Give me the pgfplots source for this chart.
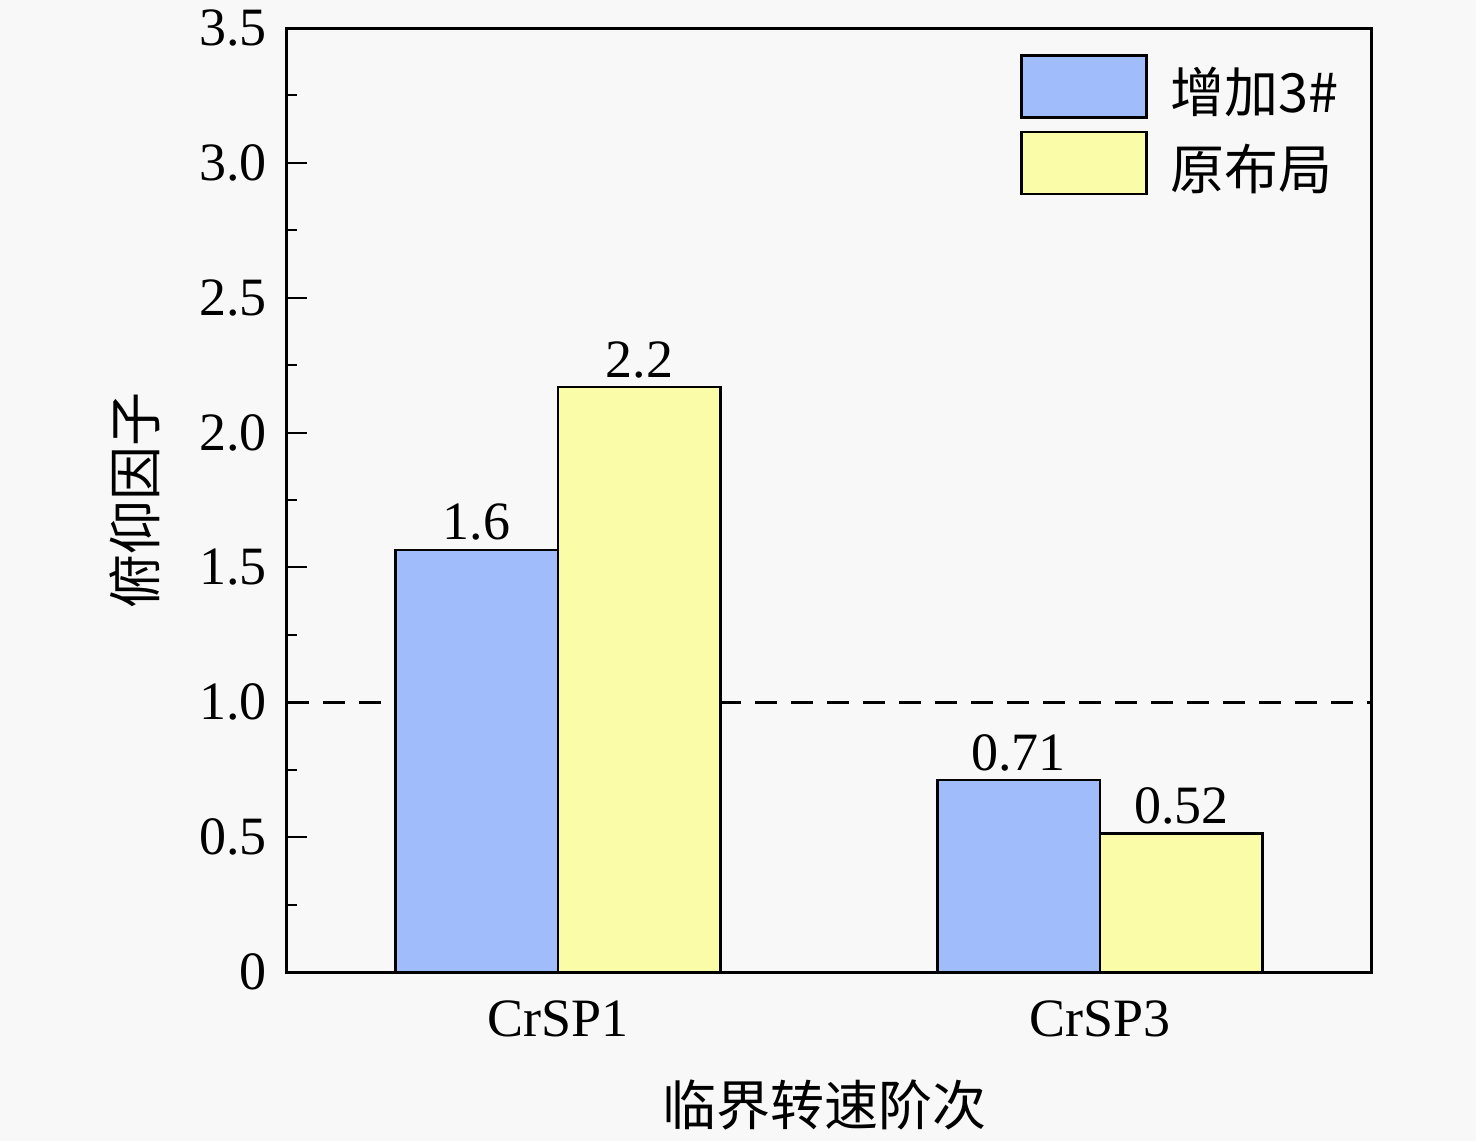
\documentclass[border=0pt]{standalone}
\usepackage{pgfplots}
\pgfplotsset{compat=1.18}
\usepackage{fontspec}
\setmainfont{Liberation Serif}
\newfontfamily\cjk{Noto Sans CJK SC}
\definecolor{barblue}{RGB}{160,188,250}
\definecolor{baryellow}{RGB}{250,252,168}
\definecolor{bg}{RGB}{248,248,248}
\begin{document}
\begin{tikzpicture}[font=\fontsize{27pt}{32pt}\selectfont]
\fill[bg] (-143.5pt,-84.5pt) rectangle (594.5pt,486pt);
\begin{axis}[
  name=ax,
  at={(0,0)}, anchor=south west,
  scale only axis, width=542pt, height=472pt,
  xmin=-0.5, xmax=1.5, ymin=0, ymax=3.5,
  xtick={0,1}, xticklabels={CrSP1,CrSP3},
  ytick={0,0.5,1,1.5,2,2.5,3,3.5},
  yticklabels={0,0.5,1.0,1.5,2.0,2.5,3.0,3.5},
  minor y tick num=1,
  tick align=inside, ytick pos=left,
  xtick style={draw=none},
  major tick length=10pt, minor tick length=5pt,
  every tick/.style={line width=1pt, black},
  axis line style={line width=1.5pt},
  /pgf/number format/assume math mode=true,
  xticklabel style={yshift=-1pt},
  yticklabel style={xshift=-6.5pt},
  ylabel={\cjk 俯仰因子},
  xlabel={\cjk 临界转速阶次},
  ylabel style={at={(axis description cs:-0.14,0.5)}, anchor=center},
  xlabel style={at={(axis description cs:0.4955,-0.141)}, anchor=center},
  ybar, bar width=0.3,
  nodes near coords={\pgfplotspointmeta},
  nodes near coords style={anchor=south, inner sep=4pt, black},
  legend style={draw=none, fill=none, inner sep=0pt,
    at={(0.676,1)}, anchor=north west, yshift=-13pt,
    row sep=6pt, column sep=11.5pt,
    nodes={inner sep=0pt}},
  legend cell align=left,
  legend image code/.code={\draw[#1, line width=1.2pt] (0pt,-13pt) rectangle (62.5pt,18pt);},
]
\addplot[sharp plot, dash pattern=on 11pt off 7pt, line width=1.3pt, black, forget plot, nodes near coords={}]
  coordinates {(-0.5,1) (1.5,1)};
\addplot[fill=barblue, draw=black, line width=1.2pt, bar shift=-0.15,
  point meta=explicit symbolic]
  coordinates {(0,1.565) [1.6] (1,0.712) [0.71]};
\addlegendentry{\cjk 增加3\#}
\addplot[fill=baryellow, draw=black, line width=1.2pt, bar shift=0.15,
  point meta=explicit symbolic]
  coordinates {(0,2.169) [2.2] (1,0.513) [0.52]};
\addlegendentry{\cjk 原布局}
\end{axis}
\end{tikzpicture}
\end{document}
